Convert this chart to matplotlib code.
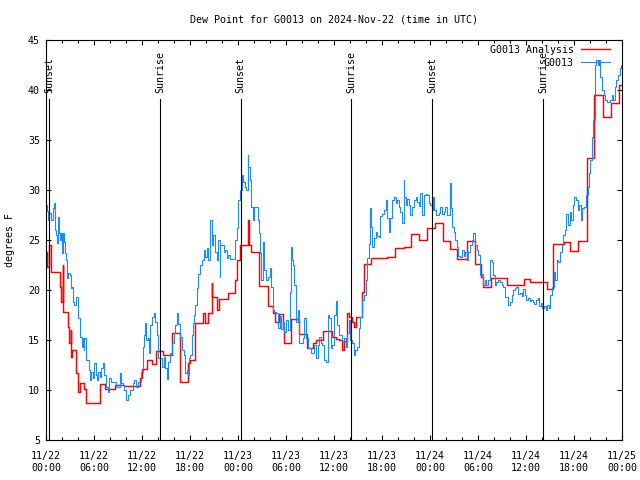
import matplotlib
matplotlib.use('Agg')
import matplotlib.pyplot as plt
import numpy as np

plt.rcParams['font.family'] = ['DejaVu Sans Mono']
plt.rcParams['font.size'] = 7.2

title = 'Dew Point for G0013 on 2024-Nov-22 (time in UTC)'

# hours since 11/22 00:00 UTC
tick_hours = [0, 6, 12, 18, 24, 30, 36, 42, 48, 54, 60, 66, 72]
tick_labels = ['11/22\n00:00', '11/22\n06:00', '11/22\n12:00', '11/22\n18:00',
               '11/23\n00:00', '11/23\n06:00', '11/23\n12:00', '11/23\n18:00',
               '11/24\n00:00', '11/24\n06:00', '11/24\n12:00', '11/24\n18:00',
               '11/25\n00:00']

sun_hours = [0.40, 14.25, 24.35, 38.17, 48.30, 62.17]
sun_names = ['Sunset', 'Sunrise', 'Sunset', 'Sunrise', 'Sunset', 'Sunrise']

# analysis (stepped)
anl_hours = [
    0.0, 0.12, 0.4, 0.67, 1.71, 1.92, 2.1, 2.15, 2.75, 2.85, 3.08, 3.15,
    3.25, 3.71, 4.0, 4.25, 4.7, 5.0, 6.7, 7.4, 8.6, 9.75, 11.8, 11.95,
    12.58, 13.2, 13.7, 14.67, 15.7, 16.75, 17.8, 18.0, 18.6, 19.67, 19.875, 20.2,
    20.7, 20.75, 21.4, 21.65, 22.8, 23.6, 23.9, 24.25, 25.2, 25.4, 25.6, 26.67,
    27.7, 28.33, 28.67, 29.17, 29.6, 29.75, 30.6, 31.67, 32.6, 33.33, 33.75, 34.6,
    35.8, 36.2, 36.6, 37.0, 37.2, 37.6, 37.85, 38.25, 38.55, 38.7, 39.5, 39.7,
    40.67, 42.6, 43.67, 44.7, 45.6, 46.67, 47.6, 48.6, 49.6, 50.5, 51.35, 52.6,
    53.6, 54.4, 54.65, 55.65, 57.6, 59.7, 60.5, 62.6, 63.4, 64.7, 65.5, 66.55,
    67.6, 68.5, 69.6, 70.6, 71.6, 72.0,
]
anl_dewpt = [
    23.8, 22.3, 24.5, 21.8, 20.3, 18.8, 22.5, 17.8, 16.3, 14.7, 16.0, 13.3,
    14.0, 11.7, 9.8, 10.7, 10.1, 8.7, 10.6, 10.1, 10.5, 10.4, 11.2, 12.1,
    13.0, 12.6, 13.9, 13.5, 15.7, 10.8, 12.7, 13.0, 16.7, 17.7, 16.7, 17.7,
    20.7, 19.3, 18.0, 19.1, 19.7, 21.0, 23.0, 24.5, 27.0, 24.5, 23.8, 20.4,
    18.4, 17.7, 16.8, 17.6, 16.2, 14.7, 17.1, 15.6, 14.2, 14.7, 15.0, 15.9,
    15.3, 15.1, 15.0, 14.0, 14.9, 17.7, 17.3, 16.8, 16.3, 17.3, 19.8, 22.6,
    23.2, 23.3, 24.2, 24.3, 25.6, 25.0, 26.2, 26.7, 24.9, 24.1, 23.1, 24.9,
    22.6, 21.3, 20.3, 21.2, 20.5, 21.1, 20.8, 20.1, 24.6, 24.8, 23.9, 24.9,
    33.2, 39.5, 37.3, 38.7, 40.5, 40.5,
]

# station observations
obs_hours = [
    0.00, 0.08, 0.25, 0.38, 0.60, 0.85, 1.05, 1.15, 1.25, 1.35, 1.50, 1.60,
    1.75, 1.85, 1.95, 2.10, 2.25, 2.40, 2.55, 2.65, 2.80, 3.00, 3.15, 3.30,
    3.40, 3.55, 3.75, 3.95, 4.05, 4.20, 4.30, 4.45, 4.60, 4.70, 4.80, 5.00,
    5.40, 5.50, 5.65, 5.85, 6.05, 6.25, 6.35, 6.50, 6.75, 6.90, 7.10, 7.30,
    7.50, 7.70, 7.90, 8.10, 8.60, 8.75, 9.20, 9.40, 9.60, 9.80, 9.95, 10.20,
    10.45, 10.85, 11.05, 11.25, 11.50, 11.90,
    12.10, 12.20, 12.40, 12.50, 12.70, 12.85, 13.00, 13.25, 13.45, 13.65, 13.85, 14.05,
    14.30, 14.50, 14.70, 14.90, 15.10, 15.30, 15.50, 15.75, 15.95, 16.15, 16.35, 16.55,
    16.80, 16.95, 17.20, 17.40, 17.60, 17.80, 17.90, 18.05, 18.25, 18.40, 18.50, 18.65,
    18.85, 19.05, 19.25, 19.45, 19.70, 19.90, 20.10, 20.30, 20.50, 20.70, 20.90, 21.10,
    21.35, 21.55, 21.70, 21.80, 22.00, 22.20, 22.40, 22.60, 22.80, 23.00, 23.65, 23.85,
    24.05,
    24.25, 24.45, 24.60, 24.85, 25.05, 25.20, 25.30, 25.45, 25.65, 25.85, 26.05, 26.45,
    26.60, 26.70, 26.90, 27.10, 27.30, 27.50, 27.75, 27.95, 28.15, 28.35, 28.55, 28.80,
    29.00, 29.20, 29.40, 29.60, 29.80, 30.00, 30.20, 30.45, 30.60, 30.70, 30.85, 31.05,
    31.25, 31.45, 31.65, 32.10, 32.30, 32.50, 32.70, 33.10, 33.50, 33.75, 33.95, 34.15,
    34.35, 34.55, 34.75, 35.00, 35.20, 35.40, 35.60, 35.80, 36.00,
    36.20, 36.40, 36.60, 36.80, 37.00, 37.20, 37.45, 37.65, 37.85, 38.05, 38.25, 38.45,
    38.65, 38.90, 39.10, 39.30, 39.50, 39.70, 39.95, 40.15, 40.35, 40.55, 40.65, 40.75,
    41.00, 41.20, 41.40, 41.60, 41.80, 42.00, 42.20, 42.45, 42.65, 42.85, 43.05, 43.25,
    43.45, 43.70, 43.90, 44.10, 44.30, 44.50, 44.70, 44.80, 44.95, 45.15, 45.35, 45.55,
    45.75, 45.95, 46.20, 46.40, 46.60, 46.80, 47.00, 47.20, 47.45, 47.65, 47.85, 48.05,
    48.20, 48.35, 48.50, 48.70, 48.90, 49.10, 49.30, 49.50, 49.70, 49.90, 50.10, 50.30,
    50.50, 50.60, 50.75, 50.95, 51.15, 51.35, 51.55, 51.80, 52.00, 52.20, 52.40, 52.60,
    52.80, 53.00, 53.20, 53.40, 53.60, 53.85, 54.05, 54.25, 54.45, 54.65, 54.85, 55.05,
    55.30, 55.50, 55.70, 55.90, 56.10, 56.30, 56.50, 56.75, 56.95, 57.15, 57.35, 57.60,
    57.80, 58.00, 58.20, 58.40, 58.60, 58.80, 59.00, 59.25, 59.45, 59.65, 59.85, 60.05,
    60.25, 60.45, 60.65, 60.85, 61.05, 61.25, 61.45, 61.65, 61.85, 62.05, 62.25, 62.45,
    62.65, 62.85, 63.05, 63.20, 63.45, 63.65, 63.85, 64.05, 64.25, 64.45, 64.65, 64.85,
    65.05, 65.25, 65.45, 65.65, 65.85, 66.05, 66.25, 66.45, 66.65, 66.85, 67.05, 67.30,
    67.50, 67.70, 67.85, 68.00, 68.20, 68.40, 68.60, 68.75, 68.95, 69.15, 69.30, 69.50,
    69.70, 69.90, 70.10, 70.50, 70.70, 70.90, 71.10, 71.30, 71.50, 71.70, 71.90,
]
obs_dewpt = [
    28.5, 27.9, 27.0, 27.7, 27.0, 28.2, 28.7, 26.0, 25.5, 24.7, 27.3, 25.7,
    25.0, 25.7, 23.7, 25.7, 24.8, 23.7, 23.0, 21.2, 21.7, 21.5, 20.2, 20.3,
    18.8, 18.5, 19.3, 18.7, 17.2, 16.7, 15.3, 14.3, 15.2, 14.0, 15.2, 13.0,
    12.0, 11.0, 11.8, 11.2, 12.7, 11.5, 11.0, 11.8, 11.3, 12.2, 12.7, 11.5,
    10.3, 9.8, 11.2, 10.8, 10.8, 10.3, 11.7, 10.7, 10.5, 10.0, 9.0, 9.5,
    10.0, 10.7, 11.0, 10.3, 10.8, 11.8,
    14.3, 15.5, 16.7, 15.0, 15.2, 13.7, 16.5, 17.3, 17.7, 16.8, 15.5, 13.2,
    13.2, 12.3, 13.3, 12.2, 11.1, 12.8, 13.7, 14.7, 15.7, 16.5, 17.7, 16.6,
    15.3, 14.0, 13.5, 11.7, 12.0, 11.5, 13.2, 13.5, 15.5, 16.7, 17.5, 18.5,
    20.2, 21.6, 22.5, 23.0, 24.0, 23.3, 24.2, 23.0, 27.0, 24.5, 25.5, 23.8,
    23.0, 25.0, 21.3, 24.5, 24.5, 23.8, 24.0, 23.2, 23.5, 23.1, 25.0, 26.2,
    29.0,
    30.0, 31.5, 30.8, 30.3, 30.0, 33.5, 32.3, 31.0, 28.3, 27.0, 28.3, 27.0,
    25.7, 23.7, 21.0, 24.8, 22.0, 21.0, 21.3, 22.2, 20.3, 18.0, 17.8, 17.7,
    16.2, 17.4, 16.1, 16.8, 15.8, 17.0, 16.0, 19.8, 24.3, 23.0, 22.5, 20.5,
    16.8, 18.0, 14.7, 15.2, 17.2, 15.2, 14.2, 13.7, 14.5, 13.2, 14.5, 15.3,
    14.7, 14.5, 13.0, 12.8, 17.5, 17.2, 14.2, 14.5, 17.5,
    18.9, 16.5, 15.5, 15.5, 14.9, 15.2, 14.3, 15.7, 17.0, 15.0, 14.7, 13.5,
    14.0, 14.3, 16.2, 17.3, 19.0, 19.5, 21.0, 23.2, 24.6, 28.2, 26.3, 24.3,
    25.2, 25.8, 25.4, 25.3, 27.4, 27.6, 28.0, 29.0, 27.2, 25.8, 27.2, 29.0,
    29.3, 28.7, 29.0, 28.3, 27.8, 26.7, 31.0, 29.3, 28.5, 29.1, 28.5, 27.5,
    28.3, 29.0, 29.3, 28.8, 28.4, 29.7, 27.5, 29.5, 29.6, 29.5, 28.7, 28.5,
    28.0, 29.3, 28.0, 27.5, 27.5, 27.7, 28.3, 27.6, 27.8, 28.3, 27.5, 27.5,
    30.7, 28.2, 26.3, 25.8, 25.0, 24.3, 23.4, 23.3, 24.0, 23.4, 23.8, 23.0,
    23.8, 24.5, 25.0, 25.7, 24.5, 24.0, 23.5, 21.5, 21.6, 20.5, 21.0, 20.5,
    21.0, 23.0, 22.8, 21.5, 20.5, 20.8, 21.0, 20.8, 20.5, 20.3, 19.3, 19.3,
    18.5, 18.8, 19.5, 20.0, 20.2, 20.3, 19.6, 19.7, 19.4, 20.1, 19.5, 19.0,
    19.2, 18.9, 19.0, 18.8, 18.6, 19.0, 19.2, 18.4, 18.7, 18.2, 18.4, 18.0,
    18.5, 18.2, 19.5, 20.3, 21.8, 21.0, 23.0, 22.8, 23.8, 24.5, 25.5, 26.0,
    27.6, 26.5, 27.8, 27.0, 28.5, 29.3, 29.0, 28.0, 28.5, 27.0, 28.2, 28.3,
    29.5, 30.3, 31.7, 33.0, 35.3, 37.0, 42.5, 43.0, 42.5, 43.0, 41.3, 40.0,
    39.5, 39.0, 38.8, 39.0, 39.5, 39.0, 40.3, 41.0, 41.5, 42.2, 42.5,
]

fig = plt.figure(figsize=(6.4, 4.8), dpi=100)
ax = fig.add_axes([46 / 640, 40 / 480, 576 / 640, 400 / 480])

ax.plot(anl_hours, anl_dewpt, color='red', lw=1.05, drawstyle='steps-post',
        label='G0013 Analysis')
ax.plot(obs_hours, obs_dewpt, color='#1a8cff', lw=0.8, drawstyle='steps-post',
        label='G0013')

ax.set_xlim(0, 72)
ax.set_ylim(5, 45)

# sunrise / sunset markers
for t, name in zip(sun_hours, sun_names):
    ax.axvline(t, ymin=0, ymax=0.853, color='black', lw=0.8)
    ax.text(t, 39.7, name, rotation=90, ha='center', va='bottom')

ax.set_xticks(tick_hours)
ax.set_xticklabels(tick_labels)
ax.set_xticks(np.arange(0, 73, 2), minor=True)
ax.set_yticks(np.arange(5, 46, 5))
ax.tick_params(which='both', direction='in', top=True, right=True, width=0.8)
ax.tick_params(which='major', length=3.4)
ax.tick_params(which='minor', length=1.9)
ax.tick_params(axis='y', pad=4.3)
ax.tick_params(axis='x', pad=8)
for s in ax.spines.values():
    s.set_linewidth(0.8)

ax.legend(loc='upper right', bbox_to_anchor=(0.979, 0.9875), frameon=False,
          markerfirst=False, borderpad=0, borderaxespad=0, handlelength=2.9,
          handletextpad=0.7, labelspacing=0.3)

fig.text(334 / 640, 1 - 20 / 480, title, ha='center', va='center')
fig.text(10 / 640, 0.5, 'degrees F', rotation=90, ha='center', va='center')

fig.savefig('out.png', dpi=100)
